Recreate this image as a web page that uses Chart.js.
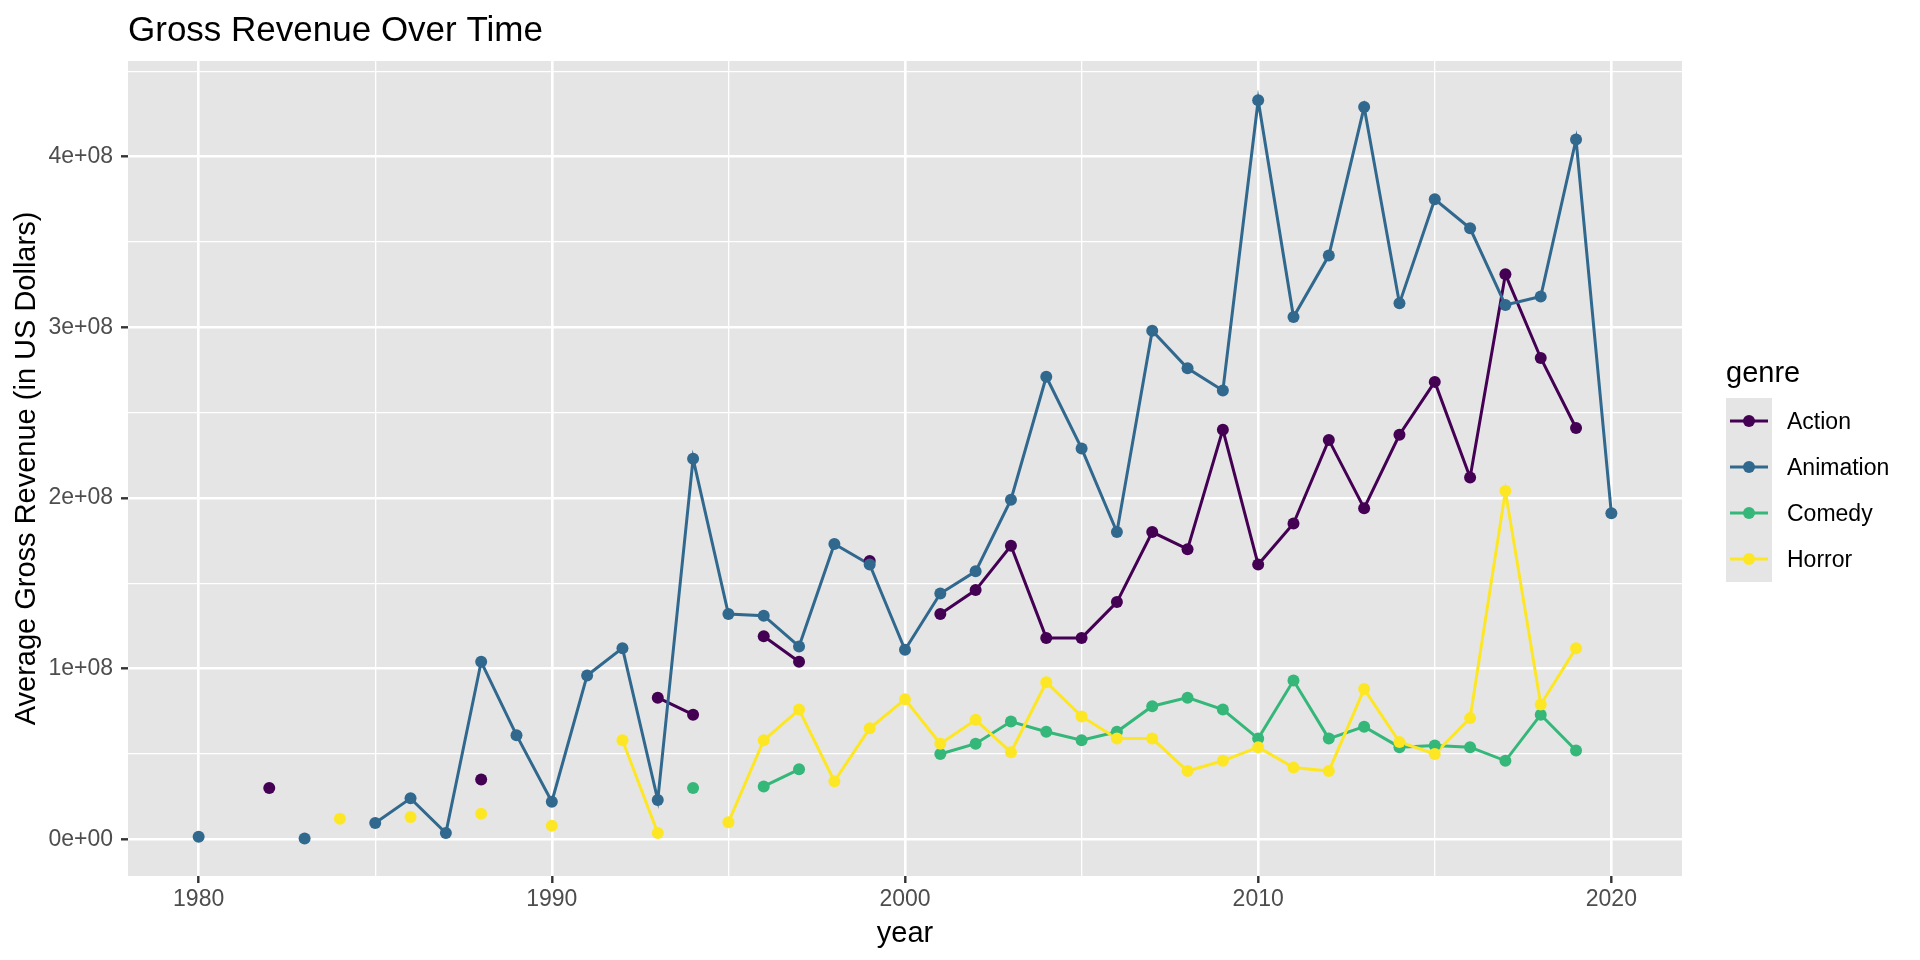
<!DOCTYPE html>
<html>
<head>
<meta charset="utf-8">
<title>Gross Revenue Over Time</title>
<script src="https://cdn.jsdelivr.net/npm/chart.js"></script>
<style>
  body { margin: 0; background: #fff; font-family: "Liberation Sans", Arial, sans-serif; }
  #wrap { position: relative; width: 1920px; height: 960px; }
  #legend { position: absolute; left: 1726px; top: 355px; color: #000; }
  #legend .ttl { font-size: 29px; line-height: 35px; height: 43px; }
  #legend .row { display: flex; align-items: center; height: 46px; }
  #legend .key { width: 46px; height: 46px; background: #E5E5E5; }
  #legend .lbl { font-size: 23px; margin-left: 15px; }
</style>
</head>
<body>
<div id="wrap">
  <canvas id="revChart" width="1920" height="960"></canvas>
  <div id="legend"></div>
</div>
<script>
const years = [];
for (let y = 1980; y <= 2020; y++) years.push(y);

// average gross revenue, millions of US dollars (null = no movie that year)
const genres = ["Action", "Animation", "Comedy", "Horror"];
const colors = ["#440154", "#31688E", "#35B779", "#FDE725"];

const action = [null, null, 30, null, null, null, null, null, 35, null,
  null, null, null, 83, 73, null, 119, 104, null, 163,
  null, 132, 146, 172, 118, 118, 139, 180, 170, 240,
  161, 185, 234, 194, 237, 268, 212, 331, 282, 241, null];
const animation = [1.5, null, null, 0.5, null, 9.5, 24, 3.7, 104, 61,
  22, 96, 112, 23, 223, 132, 131, 113, 173, 161,
  111, 144, 157, 199, 271, 229, 180, 298, 276, 263,
  433, 306, 342, 429, 314, 375, 358, 313, 318, 410, 191];
const comedy = [null, null, null, null, null, null, null, null, null, null,
  null, null, null, null, 30, null, 31, 41, null, null,
  null, 50, 56, 69, 63, 58, 63, 78, 83, 76,
  59, 93, 59, 66, 54, 55, 54, 46, 73, 52, null];
const horror = [null, null, null, null, 12, null, 13, null, 15, null,
  8, null, 58, 3.7, null, 10, 58, 76, 34, 65,
  82, 56, 70, 51, 92, 72, 59, 59, 40, 46,
  54, 42, 40, 88, 57, 50, 71, 204, 79, 112, null];
const series = [action, animation, comedy, horror];

const xGrid = [1980, 1985, 1990, 1995, 2000, 2005, 2010, 2015, 2020];
const xTickValues = [1980, 1990, 2000, 2010, 2020];
const yGrid = [0, 5e7, 1e8, 1.5e8, 2e8, 2.5e8, 3e8, 3.5e8, 4e8, 4.5e8];
const yTickValues = [0, 1e8, 2e8, 3e8, 4e8];
const yTickLabels = ["0e+00", "1e+08", "2e+08", "3e+08", "4e+08"];

const FONT = "'Liberation Sans', Arial, sans-serif";

function toPoints(vals) {
  return years.map((yr, i) => ({ x: yr, y: vals[i] == null ? null : vals[i] * 1e6 }));
}

const datasets = [];
series.forEach((vals, i) => {
  datasets.push({
    label: genres[i] + " line",
    data: toPoints(vals),
    borderColor: colors[i],
    borderWidth: 3,
    pointRadius: 0,
    tension: 0,
    spanGaps: false,
    order: 14 - i
  });
  datasets.push({
    label: genres[i],
    data: toPoints(vals),
    showLine: false,
    pointRadius: 6,
    pointBorderWidth: 0,
    pointBackgroundColor: colors[i],
    order: 4 - i
  });
});

const panelBg = {
  id: "panelBg",
  afterLayout(chart) {
    // ggplot puts the title flush with the panel
    if (chart.titleBlock) chart.titleBlock.left = chart.chartArea.left;
  },
  beforeDraw(chart) {
    const { ctx, chartArea: a } = chart;
    ctx.save();
    ctx.fillStyle = "#E5E5E5";
    ctx.fillRect(a.left, a.top, a.right - a.left, a.bottom - a.top);
    ctx.restore();
  }
};

new Chart(document.getElementById("revChart"), {
  type: "line",
  data: { datasets },
  plugins: [panelBg],
  options: {
    responsive: false,
    animation: false,
    events: [],
    layout: { padding: { left: 0, right: 238, top: 0, bottom: 0 } },
    plugins: {
      legend: { display: false },
      tooltip: { enabled: false },
      title: {
        display: true,
        text: "Gross Revenue Over Time",
        align: "start",
        color: "#000",
        font: { family: FONT, size: 35, weight: "normal" },
        padding: { top: 10, bottom: 9 }
      }
    },
    scales: {
      x: {
        type: "linear",
        min: 1978,
        max: 2022,
        afterBuildTicks(scale) { scale.ticks = xGrid.map(v => ({ value: v })); },
        afterFit(scale) { scale.height = 84; },
        border: { display: false },
        grid: {
          color: "#FFFFFF",
          lineWidth: c => (c.tick && xTickValues.includes(c.tick.value)) ? 2.6 : 1.3,
          tickColor: c => (c.tick && xTickValues.includes(c.tick.value)) ? "#333333" : "rgba(0,0,0,0)",
          tickWidth: 2.4,
          tickLength: 7
        },
        ticks: {
          autoSkip: false,
          maxRotation: 0,
          padding: 3,
          color: "#4D4D4D",
          font: { family: FONT, size: 23 },
          callback: v => xTickValues.includes(v) ? String(v) : ""
        },
        title: {
          display: true,
          text: "year",
          color: "#000",
          font: { family: FONT, size: 29 },
          padding: { top: 0, bottom: 9 }
        }
      },
      y: {
        type: "linear",
        min: -21.5e6,
        max: 456e6,
        afterBuildTicks(scale) { scale.ticks = yGrid.map(v => ({ value: v })); },
        afterFit(scale) { scale.width = 128; },
        border: { display: false },
        grid: {
          color: "#FFFFFF",
          lineWidth: c => (c.tick && yTickValues.includes(c.tick.value)) ? 2.6 : 1.3,
          tickColor: c => (c.tick && yTickValues.includes(c.tick.value)) ? "#333333" : "rgba(0,0,0,0)",
          tickWidth: 2.4,
          tickLength: 7
        },
        ticks: {
          padding: 8,
          color: "#4D4D4D",
          font: { family: FONT, size: 23 },
          callback: v => {
            const i = yTickValues.indexOf(v);
            return i >= 0 ? yTickLabels[i] : "";
          }
        },
        title: {
          display: true,
          text: "Average Gross Revenue (in US Dollars)",
          color: "#000",
          font: { family: FONT, size: 29 },
          padding: { top: 10, bottom: 0 }
        }
      }
    }
  }
});

// legend in ggplot style: title, then grey keys with line + dot
const legend = document.getElementById("legend");
legend.innerHTML = '<div class="ttl">genre</div>';
genres.forEach((g, i) => {
  const row = document.createElement("div");
  row.className = "row";
  row.innerHTML =
    '<svg class="key" width="46" height="46">' +
    '<line x1="4" y1="23" x2="42" y2="23" stroke="' + colors[i] + '" stroke-width="3"/>' +
    '<circle cx="23" cy="23" r="6" fill="' + colors[i] + '"/></svg>' +
    '<span class="lbl">' + g + '</span>';
  legend.appendChild(row);
});
</script>
</body>
</html>
